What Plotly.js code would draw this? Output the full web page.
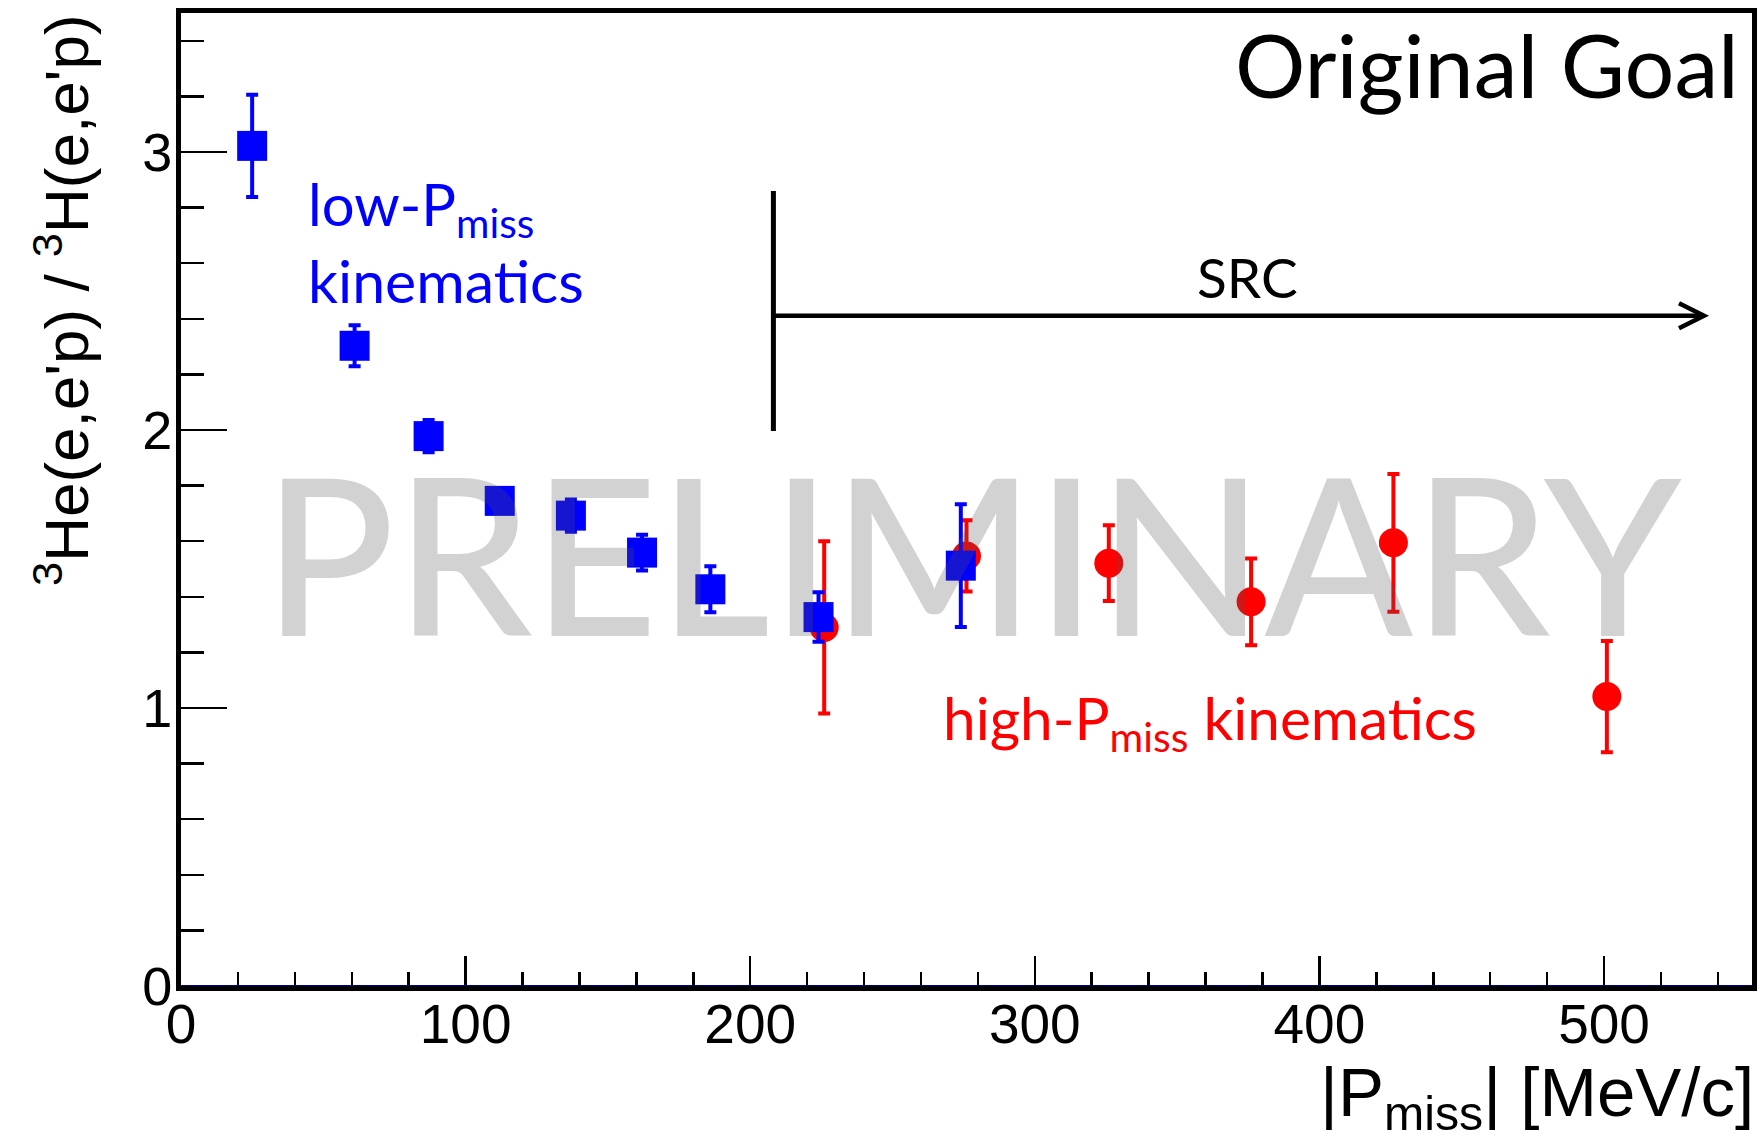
<!DOCTYPE html>
<html><head><meta charset="utf-8">
<script src="https://cdn.plot.ly/plotly-3.0.1.min.js"></script>
<style>html,body{margin:0;padding:0;background:#fff;}#chart{width:1758px;height:1144px;}</style>
</head><body><div id="chart"></div>
<script>
// ---- data ----
const lowX   = [25, 61, 87, 112, 137, 162, 186, 224, 274];
const lowY   = [3.022, 2.303, 1.978, 1.745, 1.692, 1.559, 1.427, 1.327, 1.512];
const lowErr = [0.184, 0.074, 0.058, 0.04, 0.058, 0.064, 0.083, 0.089, 0.221];

const highX   = [226, 276, 326, 376, 426, 501];
const highY   = [1.29, 1.547, 1.521, 1.382, 1.594, 1.041];
const highErr = [0.31, 0.128, 0.136, 0.156, 0.248, 0.2];

const xTickVals = [0, 100, 200, 300, 400, 500];
const yTickVals = [0, 1, 2, 3];

// ---- layout geometry ----
const W = 1758, H = 1144;
const M = {l: 181, r: 6, t: 13, b: 158};
const xRange = [0, 552], yRange = [0, 3.5];
const pw = W - M.l - M.r, ph = H - M.t - M.b;
const px2x = p => xRange[0] + (p - M.l) / pw * (xRange[1] - xRange[0]);
const py2y = p => yRange[0] + (H - M.b - p) / ph * (yRange[1] - yRange[0]);
const px2paper = p => (p - M.l) / pw;
const py2paper = p => (H - M.b - p) / ph;

// SRC marker geometry (decoration)
const srcX = px2x(773.4), srcYlo = py2y(431), srcYhi = py2y(191), srcYarrow = py2y(315.8), srcTip = px2x(1704);
const headDX = px2x(1704) - px2x(1679), headDY = py2y(303.3) - py2y(315.8);

const AXFONT = 'Liberation Sans, Arial, Helvetica, sans-serif';
const TXFONT = 'Lato, Open Sans, sans-serif';

const traces = [
  {
    x: highX, y: highY, type: 'scatter', mode: 'markers', name: 'high',
    marker: {symbol: 'circle', size: 29, color: '#ff0000', line: {width: 0}},
    error_y: {type: 'data', array: highErr, visible: true, color: '#ff0000', thickness: 4, width: 6}
  },
  {
    x: lowX, y: lowY, type: 'scatter', mode: 'markers', name: 'low',
    marker: {symbol: 'square', size: 30, color: '#0000ff', line: {width: 0}},
    error_y: {type: 'data', array: lowErr, visible: true, color: '#0000ff', thickness: 4, width: 6}
  }
];

const layout = {
  width: W, height: H,
  margin: M,
  paper_bgcolor: '#ffffff', plot_bgcolor: '#ffffff',
  showlegend: false,
  xaxis: {
    range: xRange, showgrid: false, zeroline: false,
    showline: true, mirror: true, linecolor: '#000', linewidth: 5,
    ticks: 'inside', ticklen: 30, tickwidth: 2.5, tickcolor: '#000',
    tickvals: xTickVals, ticktext: xTickVals.map(String),
    tickfont: {family: AXFONT, size: 55, color: '#000'},
    ticklabelstandoff: -14,
    minor: {dtick: 20, ticks: 'inside', ticklen: 14, tickwidth: 2.5, tickcolor: '#000', showgrid: false}
  },
  yaxis: {
    range: yRange, showgrid: false, zeroline: false,
    showline: true, mirror: true, linecolor: '#000', linewidth: 5,
    ticks: 'inside', ticklen: 46, tickwidth: 2.5, tickcolor: '#000',
    tickvals: yTickVals, ticktext: yTickVals.map(String),
    tickfont: {family: AXFONT, size: 54, color: '#000'},
    ticklabelstandoff: -7,
    minor: {dtick: 0.2, ticks: 'inside', ticklen: 23, tickwidth: 2.5, tickcolor: '#000', showgrid: false}
  },
  shapes: [
    {type: 'line', xref: 'paper', x0: 0, x1: 1, yref: 'y', y0: 0, y1: 0, line: {color: '#00008b', width: 2}, layer: 'above'},
    {type: 'line', xref: 'x', yref: 'y', x0: srcX, x1: srcX, y0: srcYlo, y1: srcYhi, line: {color: '#000', width: 5}},
    {type: 'line', xref: 'x', yref: 'y', x0: srcX, x1: srcTip, y0: srcYarrow, y1: srcYarrow, line: {color: '#000', width: 4.5}},
    {type: 'path', xref: 'x', yref: 'y',
     path: `M ${srcTip - headDX},${srcYarrow + headDY} L ${srcTip},${srcYarrow} L ${srcTip - headDX},${srcYarrow - headDY}`,
     line: {color: '#000', width: 4.5}}
  ],
  annotations: [
    {text: 'Original Goal', xref: 'x', yref: 'y', x: px2x(1741), y: py2y(64), xanchor: 'right', yanchor: 'middle',
     showarrow: false, font: {family: TXFONT, size: 88, color: '#000'}},
    {text: 'SRC', xref: 'x', yref: 'y', x: px2x(1247.5), y: py2y(277), xanchor: 'center', yanchor: 'middle',
     showarrow: false, font: {family: TXFONT, size: 55, color: '#000'}},
    {text: 'low-P<sub>miss</sub>', xref: 'x', yref: 'y', x: px2x(306), y: py2y(208), xanchor: 'left', yanchor: 'middle',
     showarrow: false, font: {family: TXFONT, size: 58, color: '#0000ff'}},
    {text: 'kinematics', xref: 'x', yref: 'y', x: px2x(306), y: py2y(280), xanchor: 'left', yanchor: 'middle',
     showarrow: false, font: {family: TXFONT, size: 59, color: '#0000ff'}},
    {text: 'high-P<sub>miss</sub> kinematics', xref: 'x', yref: 'y', x: px2x(941), y: py2y(721), xanchor: 'left', yanchor: 'middle',
     showarrow: false, font: {family: TXFONT, size: 58.5, color: '#ff0000'}},
    {text: 'PRELIMINARY', xref: 'x', yref: 'y', x: px2x(972), y: py2y(551), xanchor: 'center', yanchor: 'middle',
     showarrow: false, font: {family: TXFONT, size: 218, weight: 500, color: 'rgba(80,80,80,0.26)'}},
    {text: '|P<sub>miss</sub>| [MeV/c]', xref: 'paper', yref: 'paper', x: px2paper(1756), y: py2paper(1097), xanchor: 'right', yanchor: 'middle',
     showarrow: false, font: {family: AXFONT, size: 69, color: '#000'}},
    {text: "<sup>3</sup>He(e,e'p) / <sup>3</sup>H(e,e'p)", xref: 'paper', yref: 'paper', x: px2paper(62), y: py2paper(12), xanchor: 'center', yanchor: 'top',
     textangle: -90, showarrow: false, font: {family: AXFONT, size: 62, color: '#000'}}
  ]
};

Plotly.newPlot('chart', traces, layout, {staticPlot: true, displayModeBar: false});
</script>
</body></html>
